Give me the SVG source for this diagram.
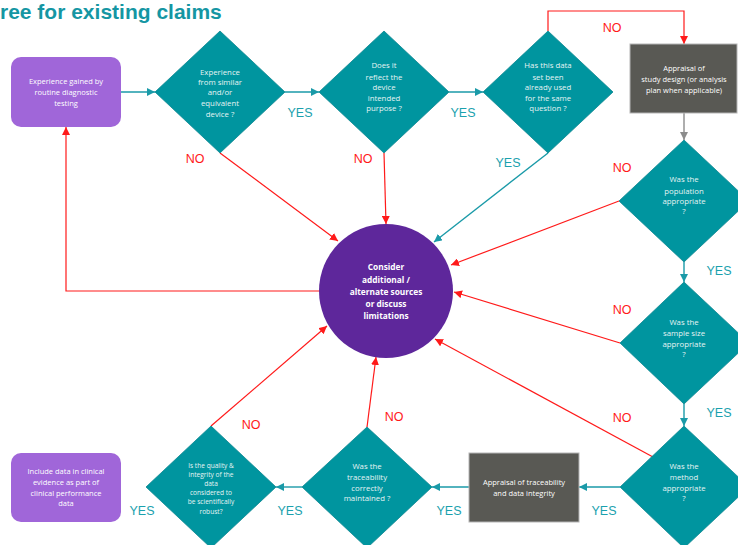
<svg xmlns="http://www.w3.org/2000/svg" width="738" height="545" viewBox="0 0 738 545">
<style>
.title{font-family:"Liberation Sans",Arial,sans-serif;font-weight:bold;font-size:21px;fill:#1596a3}
.dia{fill:#00959f;stroke:#0d8690;stroke-width:0.8}
.pbox{fill:#a066d9}
.gbox{fill:#595954;stroke:#b5b5b5;stroke-width:1}
.circ{fill:#5e279b}
.t{font-family:"Open Sans","Liberation Sans",sans-serif;font-size:7.8px;fill:#e6f4f4;text-anchor:middle}
.ts{font-family:"Open Sans","Liberation Sans",sans-serif;font-size:6.6px;fill:#e6f4f4;text-anchor:middle}
.tw{font-family:"Open Sans","Liberation Sans",sans-serif;font-size:7.5px;fill:#ffffff;text-anchor:middle}
.tc{font-family:"Open Sans","Liberation Sans",sans-serif;font-size:8.3px;font-weight:bold;fill:#ffffff;text-anchor:middle}
.yes{font-family:"Liberation Sans",Arial,sans-serif;font-size:12.5px;fill:#1ba1ae;text-anchor:middle}
.no{font-family:"Liberation Sans",Arial,sans-serif;font-size:12.5px;fill:#ff1a1a;text-anchor:middle}
.cr{fill:none;stroke:#ff1a1a;stroke-width:1.2}
.ct{fill:none;stroke:#1a9aa8;stroke-width:1.4}
.cg{fill:none;stroke:#8c8c8c;stroke-width:1.4}
</style>
<defs>
<marker id="ar" markerUnits="userSpaceOnUse" markerWidth="9" markerHeight="8" refX="8" refY="4" orient="auto"><path d="M0,0 L8,4 L0,8 z" fill="#ff1a1a"/></marker>
<marker id="at" markerUnits="userSpaceOnUse" markerWidth="9" markerHeight="8" refX="8" refY="4" orient="auto"><path d="M0,0 L8,4 L0,8 z" fill="#1a9aa8"/></marker>
<marker id="ag" markerUnits="userSpaceOnUse" markerWidth="9" markerHeight="8" refX="8" refY="4" orient="auto"><path d="M0,0 L8,4 L0,8 z" fill="#8c8c8c"/></marker>
</defs>

<text class="title" x="0" y="19">ree for existing claims</text>

<g id="connectors">
<line class="ct" x1="121" y1="92" x2="155" y2="92" marker-end="url(#at)"/>
<line class="ct" x1="285" y1="92" x2="319" y2="92" marker-end="url(#at)"/>
<line class="ct" x1="449" y1="92" x2="483" y2="92" marker-end="url(#at)"/>
<polyline class="cr" points="548,31 548,11 684,11 684,44" marker-end="url(#ar)"/>
<line class="cg" x1="684" y1="113" x2="684" y2="140" marker-end="url(#ag)"/>
<line class="ct" x1="684" y1="262" x2="684" y2="282" marker-end="url(#at)"/>
<line class="ct" x1="684" y1="404" x2="684" y2="426" marker-end="url(#at)"/>
<line class="ct" x1="620" y1="487" x2="579" y2="487" marker-end="url(#at)"/>
<line class="ct" x1="469" y1="487" x2="432" y2="487" marker-end="url(#at)"/>
<line class="ct" x1="302" y1="487" x2="276" y2="487" marker-end="url(#at)"/>
<line class="cr" x1="220" y1="153" x2="338" y2="241" marker-end="url(#ar)"/>
<line class="cr" x1="384" y1="153" x2="386" y2="224" marker-end="url(#ar)"/>
<line class="ct" x1="548" y1="153" x2="434" y2="242" marker-end="url(#at)"/>
<line class="cr" x1="619" y1="201" x2="451" y2="265" marker-end="url(#ar)"/>
<line class="cr" x1="620" y1="343" x2="454" y2="292" marker-end="url(#ar)"/>
<line class="cr" x1="653" y1="457" x2="435" y2="339" marker-end="url(#ar)"/>
<line class="cr" x1="367" y1="427" x2="376" y2="357" marker-end="url(#ar)"/>
<line class="cr" x1="211" y1="426" x2="327" y2="326" marker-end="url(#ar)"/>
<polyline class="cr" points="319,291 66,291 66,127" marker-end="url(#ar)"/>
</g>

<g id="labels">
<text class="yes" x="300" y="117">YES</text>
<text class="yes" x="463" y="117">YES</text>
<text class="no" x="612" y="32">NO</text>
<text class="no" x="195" y="163">NO</text>
<text class="no" x="363" y="163">NO</text>
<text class="yes" x="508" y="167">YES</text>
<text class="no" x="622" y="172">NO</text>
<text class="yes" x="719" y="275">YES</text>
<text class="no" x="622" y="314">NO</text>
<text class="yes" x="719" y="417">YES</text>
<text class="no" x="622" y="422">NO</text>
<text class="no" x="394" y="421">NO</text>
<text class="no" x="251" y="429">NO</text>
<text class="yes" x="142" y="515">YES</text>
<text class="yes" x="290" y="515">YES</text>
<text class="yes" x="449" y="515">YES</text>
<text class="yes" x="604" y="515">YES</text>
</g>

<g id="box-routine">
<rect class="pbox" x="11" y="57" width="110" height="70" rx="10"/>
<text class="tw" x="66" y="84">Experience gained by</text>
<text class="tw" x="66" y="95">routine diagnostic</text>
<text class="tw" x="66" y="106">testing</text>
</g>

<g id="d-similar">
<polygon class="dia" points="220,31 285,92 220,153 155,92"/>
<text class="t" x="220" y="75">Experience</text>
<text class="t" x="220" y="85">from similar</text>
<text class="t" x="220" y="95">and/or</text>
<text class="t" x="220" y="106">equivalent</text>
<text class="t" x="220" y="117">device ?</text>
</g>

<g id="d-purpose">
<polygon class="dia" points="384,31 449,92 384,153 319,92"/>
<text class="t" x="384" y="68">Does it</text>
<text class="t" x="384" y="80">reflect the</text>
<text class="t" x="384" y="90">device</text>
<text class="t" x="384" y="101">intended</text>
<text class="t" x="384" y="111">purpose ?</text>
</g>

<g id="d-used">
<polygon class="dia" points="548,31 613,92 548,153 483,92"/>
<text class="t" x="548" y="68">Has this data</text>
<text class="t" x="548" y="80">set been</text>
<text class="t" x="548" y="90">already used</text>
<text class="t" x="548" y="101">for the same</text>
<text class="t" x="548" y="111">question ?</text>
</g>

<g id="box-study">
<rect class="gbox" x="630" y="44" width="107" height="69"/>
<text class="tw" x="684" y="71">Appraisal of</text>
<text class="tw" x="684" y="82">study design (or analysis</text>
<text class="tw" x="684" y="93">plan when applicable)</text>
</g>

<g id="d-population">
<polygon class="dia" points="684,140 749,201 684,262 619,201"/>
<text class="t" x="684" y="182">Was  the</text>
<text class="t" x="684" y="194">population</text>
<text class="t" x="684" y="204">appropriate</text>
<text class="t" x="684" y="214">?</text>
</g>

<g id="d-sample">
<polygon class="dia" points="684,282 749,343 684,404 620,343"/>
<text class="t" x="684" y="325">Was  the</text>
<text class="t" x="684" y="336">sample size</text>
<text class="t" x="684" y="347">appropriate</text>
<text class="t" x="684" y="357">?</text>
</g>

<g id="d-method">
<polygon class="dia" points="684,426 749,487 684,548 620,487"/>
<text class="t" x="684" y="469">Was  the</text>
<text class="t" x="684" y="480">method</text>
<text class="t" x="684" y="491">appropriate</text>
<text class="t" x="684" y="501">?</text>
</g>

<g id="box-traceability">
<rect class="gbox" x="469" y="453" width="110" height="69"/>
<text class="tw" x="524" y="485">Appraisal of  traceability</text>
<text class="tw" x="524" y="496">and data integrity</text>
</g>

<g id="d-traceability">
<polygon class="dia" points="367,427 432,487 367,548 302,487"/>
<text class="t" x="367" y="469">Was the</text>
<text class="t" x="367" y="480">traceability</text>
<text class="t" x="367" y="491">correctly</text>
<text class="t" x="367" y="501">maintained ?</text>
</g>

<g id="d-quality">
<polygon class="dia" points="211,426 276,487 211,548 146,487"/>
<text class="ts" x="211" y="468">Is the quality &amp;</text>
<text class="ts" x="211" y="477">integrity of the</text>
<text class="ts" x="211" y="486">data</text>
<text class="ts" x="211" y="495">considered to</text>
<text class="ts" x="211" y="504">be scientifically</text>
<text class="ts" x="211" y="514">robust?</text>
</g>

<g id="box-include">
<rect class="pbox" x="11" y="453" width="110" height="69" rx="10"/>
<text class="tw" x="66" y="474">Include data in  clinical</text>
<text class="tw" x="66" y="485">evidence as part of</text>
<text class="tw" x="66" y="496">clinical performance</text>
<text class="tw" x="66" y="506">data</text>
</g>

<g id="c-consider">
<circle class="circ" cx="386" cy="291" r="67"/>
<text class="tc" x="386" y="270">Consider</text>
<text class="tc" x="386" y="283">additional /</text>
<text class="tc" x="386" y="295">alternate sources</text>
<text class="tc" x="386" y="307">or discuss</text>
<text class="tc" x="386" y="319">limitations</text>
</g>
</svg>
